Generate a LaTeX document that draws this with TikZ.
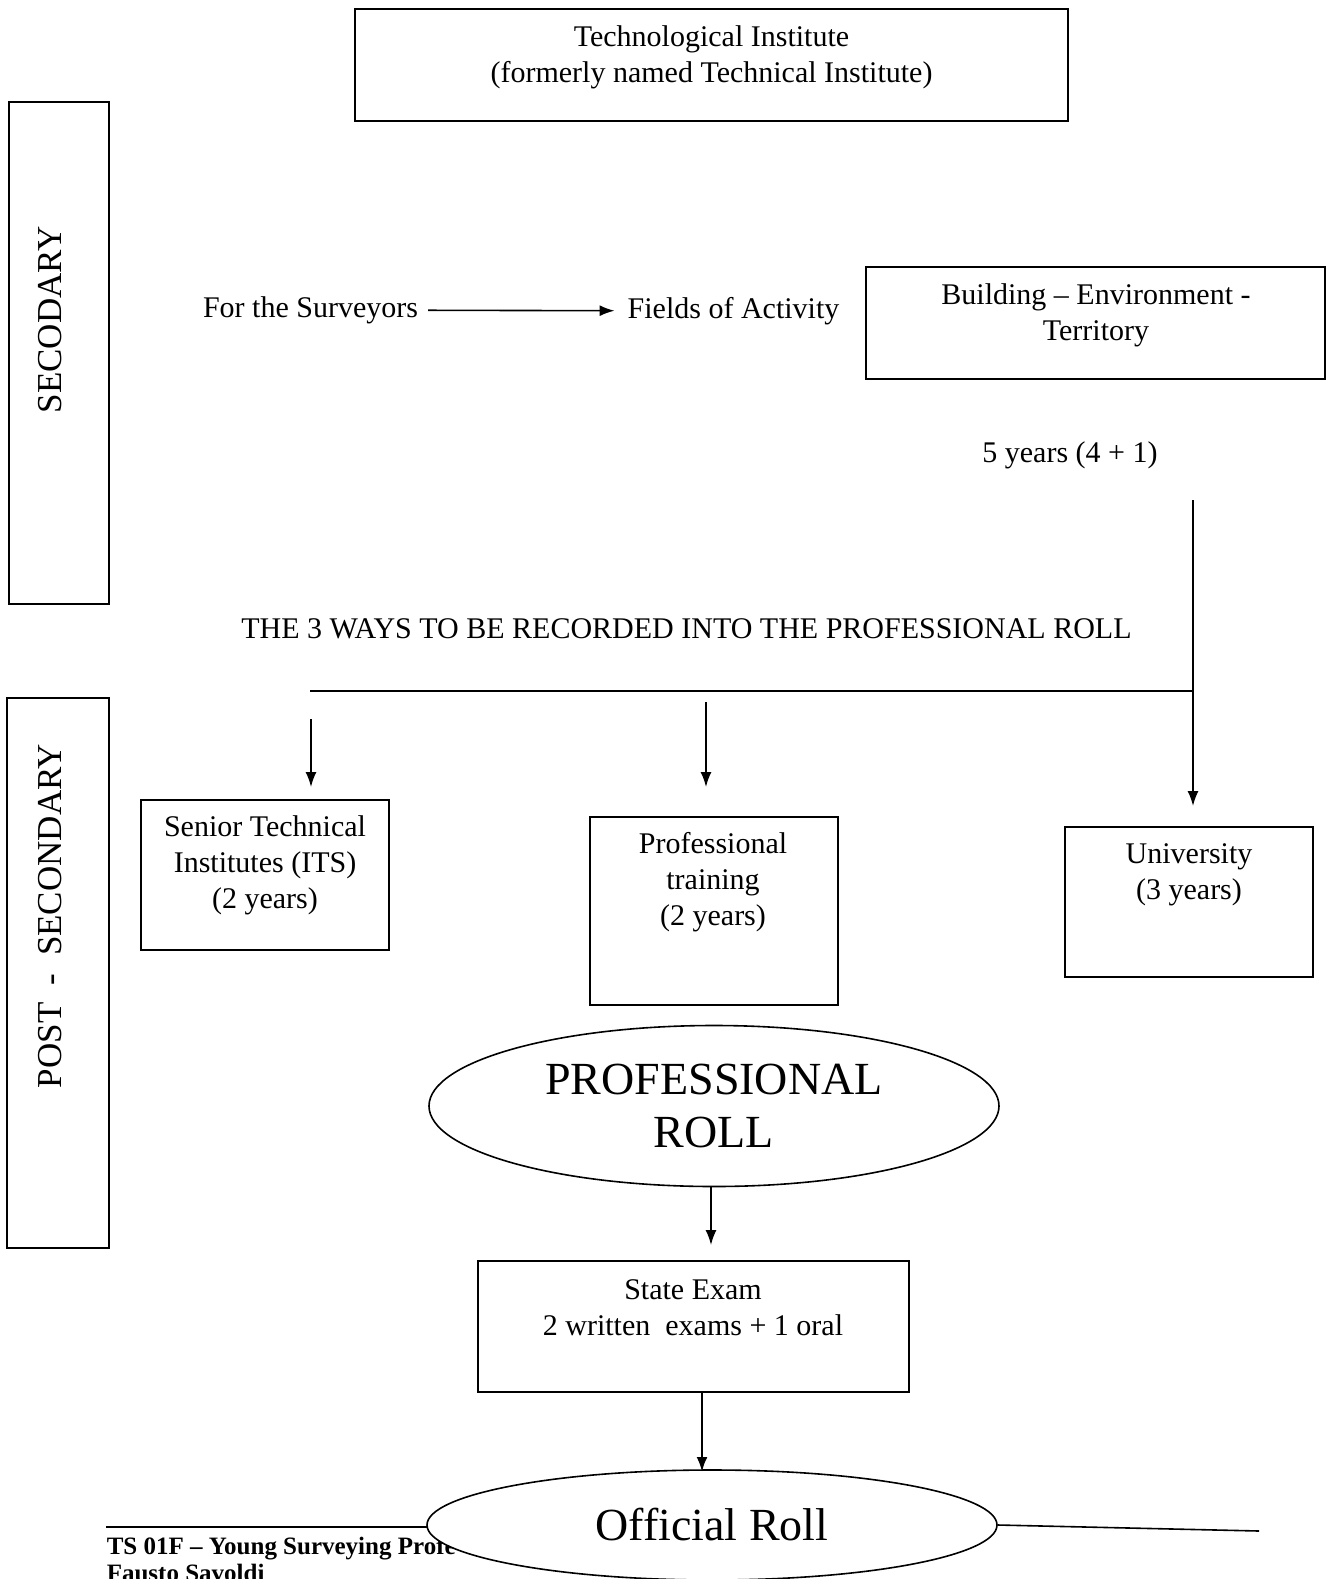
\documentclass[tikz,border=0pt]{standalone}
\usepackage{fontspec}
\setmainfont{Liberation Serif}
\usetikzlibrary{shapes.geometric,arrows.meta}

\begin{document}
\begin{tikzpicture}[x=1pt,y=-1pt, line width=1.6pt,
	box/.style={draw, inner sep=0pt},
	arr/.style={-{Latex[length=15pt,width=11pt]}},
	txt/.style={align=center, font=\fontsize{30}{36}\selectfont},
	side/.style={rotate=90, font=\fontsize{35}{42}\selectfont},
	roll/.style={draw, ellipse, fill=white, inner sep=0pt, align=center, font=\fontsize{46}{53}\selectfont},
	foot/.style={anchor=west, inner sep=0pt, font=\fontsize{25}{30}\selectfont\bfseries}]
	\useasboundingbox (0,0) rectangle (1326,1579);
	\node[box, minimum width=713, minimum height=112] (techbox) at (711.5,65) {};
	\node[txt] (tech) at (711.5,57) {Technological Institute\\(formerly named Technical Institute)};
	\node[box, minimum width=100, minimum height=502] (secbox) at (59,353) {};
	\node[side] (sec) at (50,320) {SECODARY};
	\node[box, minimum width=102, minimum height=550] (postbox) at (58,973) {};
	\node[side] (post) at (50,916) {POST \ - \ SECONDARY};
	\node[txt] (surv) at (310.5,310) {For the Surveyors};
	\node[txt] (fields) at (733.5,311) {Fields of Activity};
	\node[box, minimum width=459, minimum height=112] (buildbox) at (1095.5,323) {};
	\node[txt] (build) at (1096,315) {Building -- Environment -\\Territory};
	\node[txt] (years) at (1070,455) {5 years (4 + 1)};
	\node[txt] (ways) at (686.5,629) {THE 3 WAYS TO BE RECORDED INTO THE PROFESSIONAL ROLL};
	\node[box, minimum width=248, minimum height=150] (itsbox) at (265,875) {};
	\node[txt] (its) at (265,865) {Senior Technical\\Institutes (ITS)\\(2 years)};
	\node[box, minimum width=248, minimum height=188] (trainbox) at (714,911) {};
	\node[txt] (train) at (713,882) {Professional\\training\\(2 years)};
	\node[box, minimum width=248, minimum height=150] (unibox) at (1189,902) {};
	\node[txt] (uni) at (1189,875) {University\\(3 years)};
	\node[roll, minimum width=570, minimum height=161] (proll) at (714,1106) {PROFESSIONAL\\ROLL};
	\node[box, minimum width=431, minimum height=131] (exambox) at (693.5,1326.5) {};
	\node[txt] (exam) at (693,1308) {State Exam\\2 written \ exams + 1 oral};
	\node[foot] (ts) at (106,1548) {TS 01F -- Young Surveying Profe};
	\node[foot] (author) at (106,1573) {Fausto Savoldi};
	\coordinate (ytop) at (1193,500);
	\coordinate (ybend) at (1193,691);
	\coordinate (yleft) at (310,691);
	\coordinate (yuni) at (1193,806);
	\coordinate (litop) at (311,719);
	\coordinate (lits) at (311,787);
	\coordinate (mtop) at (706,702);
	\coordinate (mtrain) at (706,787);
	\coordinate (examin) at (711,1245);
	\coordinate (offin) at (702,1472);
	\coordinate (fl) at (106,1527);
	\coordinate (fr) at (1259,1531);
	\draw (fl) -- (712,1527);
	\node[roll, minimum width=570, minimum height=110] (oroll) at (712,1525) {Official Roll};
	\draw (oroll.east) -- (fr);
	\draw[arr, shorten <=6pt, shorten >=9pt] (surv) -- (fields);
	\draw (ybend) -- (yleft);
	\draw[arr] (ytop) -- (yuni);
	\draw[arr] (litop) -- (lits);
	\draw[arr] (mtop) -- (mtrain);
	\draw[arr] (proll.south -| examin) -- (examin);
	\draw[arr, line width=2.6pt] (exambox.south -| offin) -- (offin);
\end{tikzpicture}
\end{document}
